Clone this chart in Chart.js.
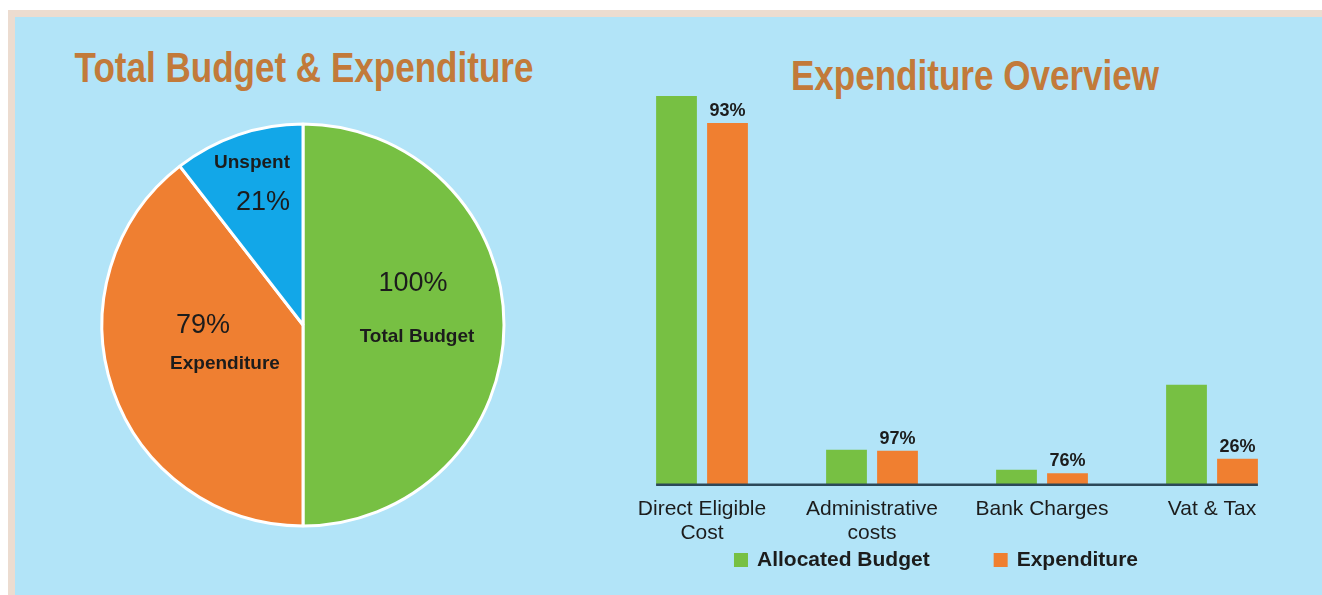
<!DOCTYPE html>
<html>
<head>
<meta charset="utf-8">
<script src="https://cdn.jsdelivr.net/npm/chart.js@4.4.0/dist/chart.umd.min.js"></script>
<style>
  html, body { margin: 0; padding: 0; background: #fff; overflow: hidden; width: 1322px; height: 595px; }
  #panel {
    position: absolute; left: 8px; top: 10px; width: 1314px; height: 585px;
    background: #b2e4f8; border-left: 7px solid #ecdcd0; border-top: 7px solid #ecdcd0;
    box-sizing: border-box;
  }
  h2 {
    position: absolute; margin: 0; white-space: nowrap;
    font-family: "Liberation Sans", Arial, sans-serif;
    font-weight: bold; font-size: 43px; line-height: 43px; color: #c27a3a;
    transform: translateX(-50%) scaleX(0.815);
  }
  .chart { position: absolute; }
</style>
</head>
<body>
<div id="panel"></div>
<h2 style="left:304px; top:46px;">Total Budget &amp; Expenditure</h2>
<h2 style="left:975px; top:54px;">Expenditure Overview</h2>
<div class="chart" style="left:15px; top:17px; width:580px; height:578px;"><canvas id="pieChart"></canvas></div>
<div class="chart" style="left:600px; top:17px; width:722px; height:578px;"><canvas id="barChart"></canvas></div>
<script>
// budget split
const pieLabels = ["Total Budget", "Expenditure", "Unspent"];
const pieValues = [100, 79, 21];
const pieColors = ["#77c043", "#ef7f31", "#12a7e8"];

// spending per cost line
const categories = [["Direct Eligible", "Cost"], ["Administrative", "costs"], "Bank Charges", "Vat & Tax"];
const allocatedBudget = [389, 35, 15, 100];
const expenditure = [362, 34, 11.4, 26];

const textColor = "#1c1c1c";
const baseFont = "'Liberation Sans', Arial, sans-serif";

Chart.defaults.font.family = baseFont;
Chart.defaults.color = textColor;

// where the two text lines sit relative to the pie centre
const pieLabelOffsets = [
  { pct: [110, -41], name: [114, 12] },
  { pct: [-100, 1], name: [-78, 39] },
  { pct: [-40, -122], name: [-51, -162] }
];

const pieText = {
  id: 'pieText',
  afterDatasetsDraw(chart) {
    const ctx = chart.ctx;
    const values = chart.data.datasets[0].data;
    const meta = chart.getDatasetMeta(0);
    ctx.save();
    ctx.fillStyle = textColor;
    ctx.textAlign = 'center';
    ctx.textBaseline = 'middle';
    meta.data.forEach((arc, i) => {
      const off = pieLabelOffsets[i];
      const pct = Math.round(values[i] / values[0] * 100) + '%';
      ctx.font = "27px " + baseFont;
      ctx.fillText(pct, arc.x + off.pct[0], arc.y + off.pct[1]);
      ctx.font = "bold 19px " + baseFont;
      ctx.fillText(chart.data.labels[i], arc.x + off.name[0], arc.y + off.name[1]);
    });
    ctx.restore();
  }
};

new Chart(document.getElementById("pieChart").getContext("2d"), {
  type: 'pie',
  data: {
    labels: pieLabels,
    datasets: [{
      data: pieValues,
      backgroundColor: pieColors,
      borderColor: '#ffffff',
      borderWidth: 3
    }]
  },
  options: {
    responsive: true,
    maintainAspectRatio: false,
    animation: false,
    radius: 201,
    layout: { padding: { left: 0, right: 4, top: 88, bottom: 50 } },
    plugins: {
      legend: { display: false },
      tooltip: { enabled: false }
    }
  },
  plugins: [pieText]
});

// percent spent above each expenditure bar, plus the base line under the bars
const barExtras = {
  id: 'barExtras',
  afterDatasetsDraw(chart) {
    const ctx = chart.ctx;
    const budget = chart.data.datasets[0].data;
    const spent = chart.data.datasets[1].data;
    const bars0 = chart.getDatasetMeta(0).data;
    const bars1 = chart.getDatasetMeta(1).data;
    const y0 = chart.scales.y.getPixelForValue(0);

    ctx.save();
    ctx.strokeStyle = '#2c4859';
    ctx.lineWidth = 2.5;
    ctx.beginPath();
    ctx.moveTo(bars0[0].x - bars0[0].width / 2, y0);
    const last = bars1[bars1.length - 1];
    ctx.lineTo(last.x + last.width / 2, y0);
    ctx.stroke();

    ctx.fillStyle = textColor;
    ctx.font = "bold 18px " + baseFont;
    ctx.textAlign = 'center';
    ctx.textBaseline = 'bottom';
    bars1.forEach((bar, i) => {
      const pct = Math.round(spent[i] / budget[i] * 100) + '%';
      ctx.fillText(pct, bar.x, bar.y - 3);
    });
    ctx.restore();
  }
};

// one-row legend with a wide gap between the items
const rowLegend = {
  id: 'rowLegend',
  afterDraw(chart, args, opts) {
    const ctx = chart.ctx;
    ctx.save();
    ctx.font = "bold 21px " + baseFont;
    ctx.textBaseline = 'middle';
    ctx.textAlign = 'left';
    const items = chart.data.datasets.map(ds => ({
      text: ds.label, color: ds.backgroundColor, w: ctx.measureText(ds.label).width
    }));
    const total = items.reduce((s, it) => s + opts.box + opts.textGap + it.w, 0) + opts.gap * (items.length - 1);
    let x = opts.centerX - total / 2;
    items.forEach(it => {
      ctx.fillStyle = it.color;
      ctx.fillRect(x, opts.y - opts.box / 2, opts.box, opts.box);
      x += opts.box + opts.textGap;
      ctx.fillStyle = textColor;
      ctx.fillText(it.text, x, opts.y);
      x += it.w + opts.gap;
    });
    ctx.restore();
  }
};

new Chart(document.getElementById("barChart").getContext("2d"), {
  type: 'bar',
  data: {
    labels: categories,
    datasets: [{
      label: 'Allocated Budget',
      data: allocatedBudget,
      backgroundColor: '#77c043'
    }, {
      label: 'Expenditure',
      data: expenditure,
      backgroundColor: '#f07f30'
    }]
  },
  options: {
    responsive: true,
    maintainAspectRatio: false,
    animation: false,
    categoryPercentage: 0.6,
    barPercentage: 0.8,
    layout: { padding: { left: 17, right: 25, top: 79, bottom: 38 } },
    scales: {
      x: {
        grid: { display: false, drawTicks: false },
        border: { display: false },
        ticks: {
          padding: 12,
          color: textColor,
          font: { size: 21, lineHeight: 1.15 },
          maxRotation: 0,
          autoSkip: false
        }
      },
      y: {
        display: false,
        min: 0,
        max: Math.max(...allocatedBudget)
      }
    },
    plugins: {
      legend: { display: false },
      tooltip: { enabled: false },
      rowLegend: { y: 543, centerX: 336, box: 14, textGap: 9, gap: 64 }
    }
  },
  plugins: [barExtras, rowLegend]
});
</script>
</body>
</html>
